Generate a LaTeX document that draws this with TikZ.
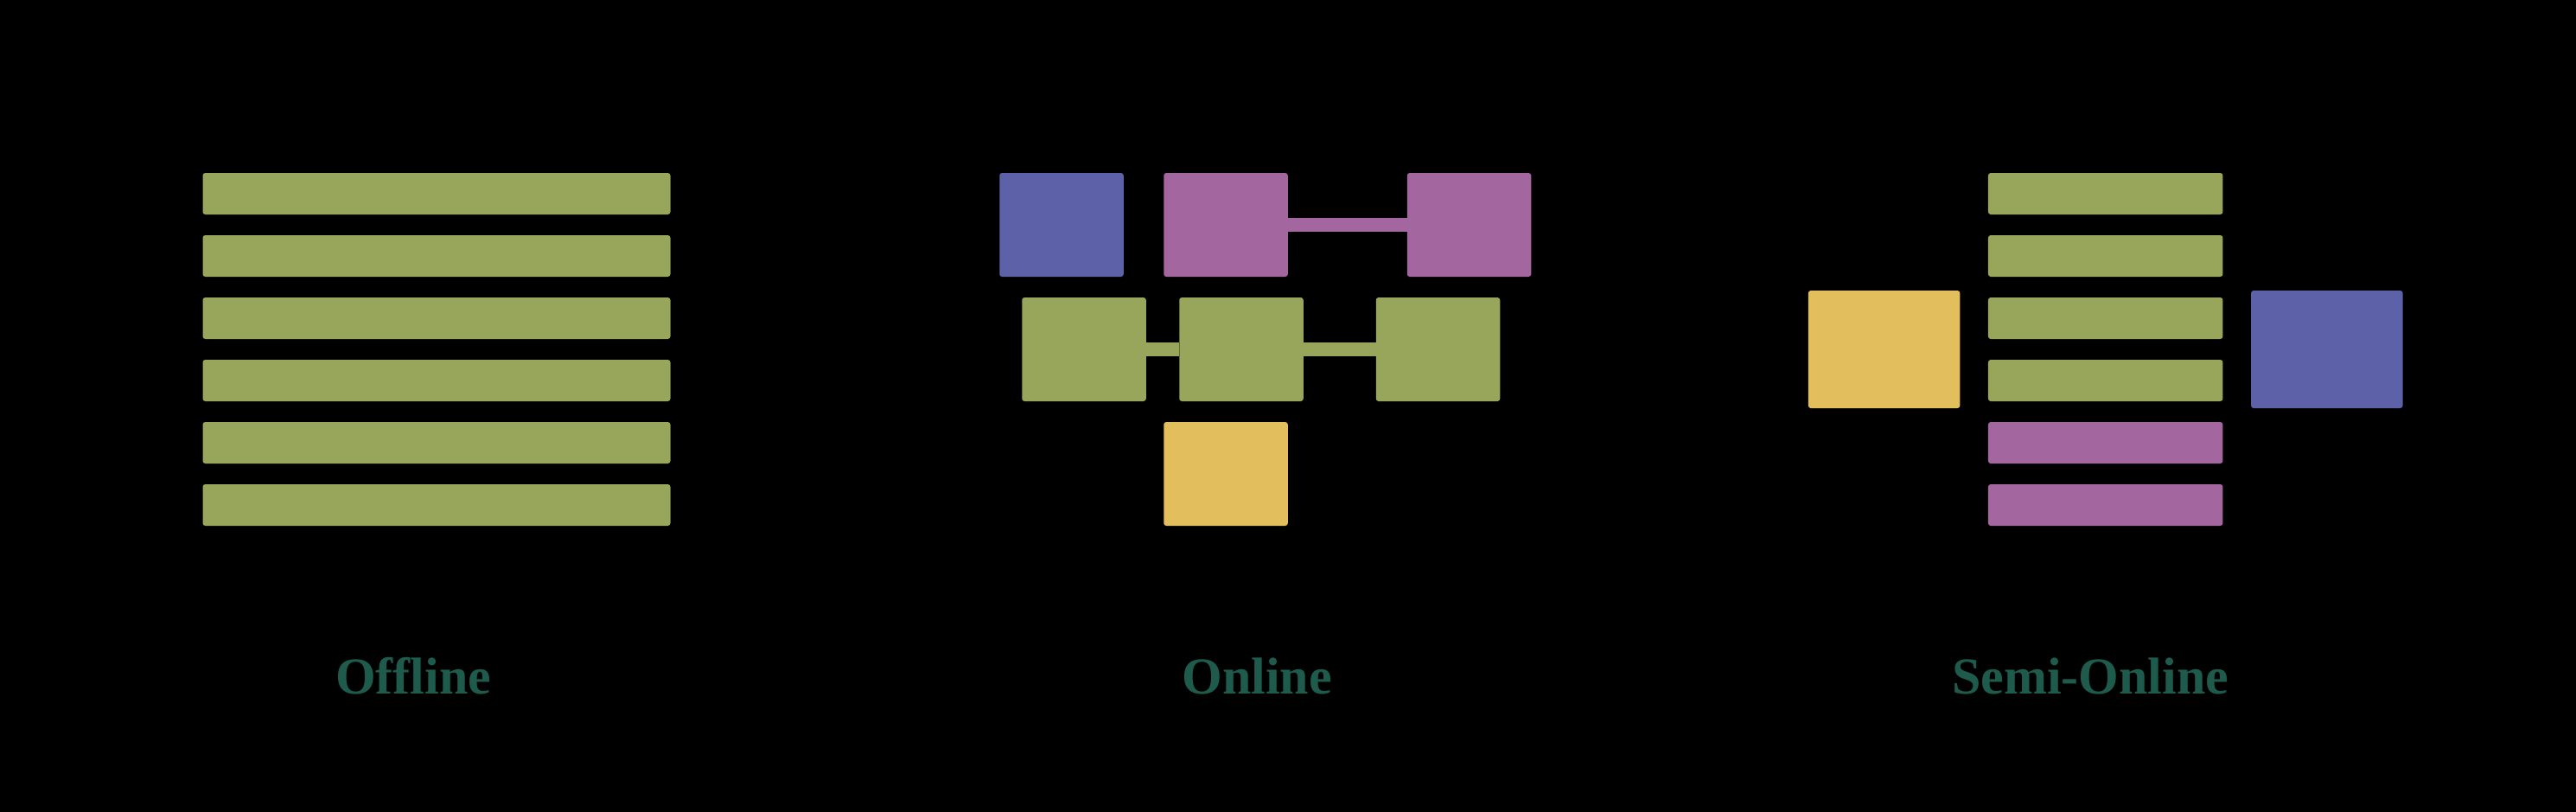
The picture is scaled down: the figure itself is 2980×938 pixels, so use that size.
\documentclass[tikz,border=0pt]{standalone}
\usepackage{fontspec}
\setmainfont{Liberation Serif}
\definecolor{cgreen}{HTML}{98A65C}
\definecolor{cblue}{HTML}{5D62A8}
\definecolor{cpurple}{HTML}{A3669E}
\definecolor{cyellow}{HTML}{E2BF5C}
\definecolor{ctext}{HTML}{1E5B4C}
\tikzset{
  blk/.style={rectangle, rounded corners=3pt, inner sep=0pt, draw=none},
  bar/.style={blk, minimum height=48pt},
  sq/.style={blk, minimum width=143.5pt, minimum height=120pt},
  link/.style={line width=16pt},
  lbl/.style={anchor=base, text=ctext, font=\fontsize{60}{72}\selectfont\bfseries}
}
\begin{document}
\begin{tikzpicture}[x=1pt,y=-1pt]
\useasboundingbox (0,0) rectangle (2980,938);
\fill[black] (-20,-20) rectangle (3000,958);
% Offline
\foreach \i/\yy in {1/224,2/296,3/368,4/440,5/512,6/584}{
  \node[bar, fill=cgreen, minimum width=541pt] (off\i) at (505,\yy) {};
}
% Online
\node[sq, fill=cblue] (onb) at (1228,260) {};
\node[sq, fill=cpurple] (onp1) at (1418,260) {};
\node[sq, fill=cpurple] (onp2) at (1699.5,260) {};
\node[sq, fill=cgreen] (ong1) at (1254,404) {};
\node[sq, fill=cgreen] (ong2) at (1436,404) {};
\node[sq, fill=cgreen] (ong3) at (1663.5,404) {};
\node[sq, fill=cyellow] (ony) at (1418,548) {};
\draw[link, cpurple] (onp1.east) -- (onp2.west);
\draw[link, cgreen] (ong1.east) -- (ong2.west);
\draw[link, cgreen] (ong2.east) -- (ong3.west);
% Semi-Online
\foreach \i/\yy/\cc in {1/224/cgreen,2/296/cgreen,3/368/cgreen,4/440/cgreen,5/512/cpurple,6/584/cpurple}{
  \node[bar, fill=\cc, minimum width=271.5pt] (semi\i) at (2435.7,\yy) {};
}
\node[blk, fill=cyellow, minimum width=175.5pt, minimum height=136pt] (semiy) at (2179.6,404) {};
\node[blk, fill=cblue, minimum width=175.5pt, minimum height=136pt] (semib) at (2691.8,404) {};
% Labels
\node[lbl] (l1) at (478,802) {Offline};
\node[lbl] (l2) at (1454,802) {Online};
\node[lbl] (l3) at (2418,802) {Semi-Online};
\end{tikzpicture}
\end{document}
